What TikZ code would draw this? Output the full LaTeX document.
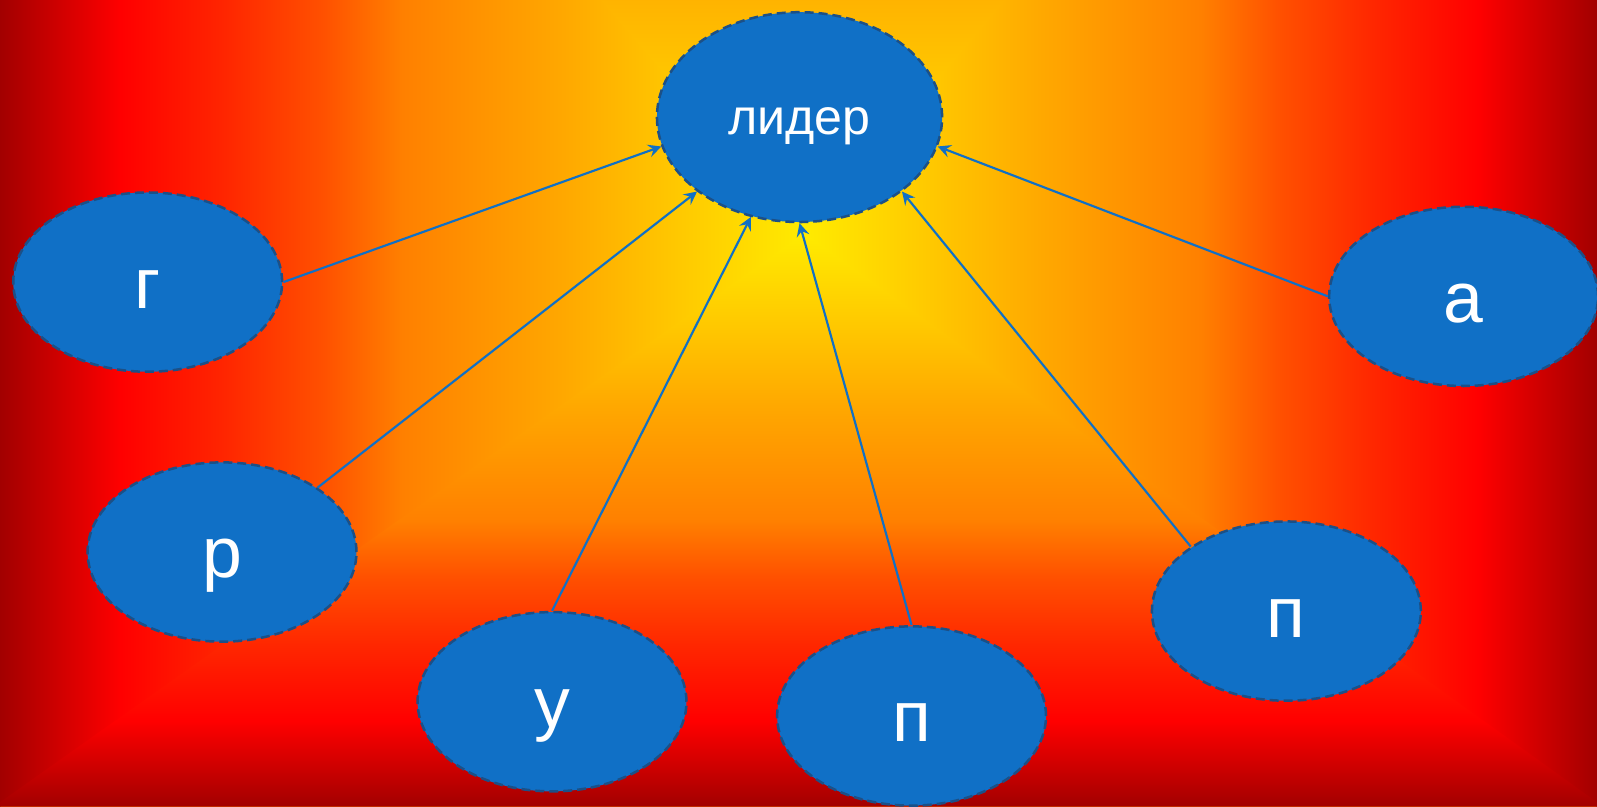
\documentclass[tikz,border=0pt]{standalone}
\usepackage{fontspec}
\setmainfont{Liberation Sans}
\usepackage{xcolor}
\usepackage{tikz}
\usetikzlibrary{arrows, automata, shapes.geometric, positioning}
\definecolor{nodeblue}{RGB}{16,112,198}
\definecolor{rimblue}{RGB}{28,80,135}
\definecolor{glow0}{RGB}{255,235,0}
\definecolor{glow1}{RGB}{255,200,0}
\definecolor{glow2}{RGB}{255,168,0}
\definecolor{glow3}{RGB}{255,128,0}
\definecolor{glow4}{RGB}{255,80,0}
\definecolor{glow5}{RGB}{255,38,0}
\definecolor{glow6}{RGB}{255,0,0}
\definecolor{glow7}{RGB}{162,0,0}
\pgfdeclarehorizontalshading{glow}{100bp}{color(0bp)=(glow0); color(25bp)=(glow0);
  color(33bp)=(glow1); color(40bp)=(glow2); color(50bp)=(glow3); color(55bp)=(glow4);
  color(61bp)=(glow5); color(67.5bp)=(glow6); color(75bp)=(glow7); color(100bp)=(glow7)}

\begin{document}
\begin{tikzpicture}[>= stealth, shorten >= 0pt,
                    auto, node distance=4.5cm, semithick]
\tikzstyle{every state}=[shape=ellipse, draw=rimblue, fill=nodeblue, text=white,
                    line width=0.7pt, dash pattern=on 2.5pt off 1.4pt, inner sep=0pt,
                    minimum width=2.64cm, minimum height=1.76cm,
                    font=\fontsize{20}{24}\selectfont, text height=0.66cm, text depth=0.15cm]
  \useasboundingbox (0,0) rectangle (15.68,-7.92);
  % background glow
  \begin{scope}
    \clip (0,0) rectangle (15.68,-7.92);
    \coordinate (C) at (7.9,-2.3);
    \fill[glow3] (0,0) rectangle (15.68,-7.92);
    \shade[shading=glow, shading angle=180] (C) -- (0,6.9) -- (0,-7.92) -- cycle;
    \shade[shading=glow, shading angle=0]   (C) -- (15.68,6.9) -- (15.68,-7.92) -- cycle;
    \shade[shading=glow, shading angle=90]
      (7.88,-2.3) -- (7.92,-2.3) -- (15.74,6.9) -- (-0.06,6.9) -- cycle;
    \shade[shading=glow, shading angle=270]
      (7.88,-2.3) -- (7.92,-2.3) -- (15.74,-7.92) -- (-0.06,-7.92) -- cycle;
  \end{scope}
  \node[state, minimum width=2.8cm, minimum height=2.06cm, font=\fontsize{14}{17}\selectfont,
        text height=0.45cm, text depth=0.1cm] (L) at (7.85,-1.15) {лидер};
  \node[state] (G)  [left of=L, node distance=6.4cm, yshift=-1.62cm] {г};
  \node[state] (R)  [left of=L, node distance=5.67cm, yshift=-4.27cm] {р};
  \node[state] (U)  [below of=L, node distance=5.74cm, xshift=-2.43cm] {у};
  \node[state] (P)  [below of=L, node distance=5.88cm, xshift=1.1cm] {п};
  \node[state] (P2) [right of=L, node distance=4.78cm, yshift=-4.85cm] {п};
  \node[state] (A)  [right of=L, node distance=6.52cm, yshift=-1.76cm] {а};
  \path[->, nodeblue] (G.east) edge (L.192);
  \path[->, nodeblue] (R.34)   edge (L.216);
  \path[->, nodeblue] (U.north) edge (L.244);
  \path[->, nodeblue] (P.north) edge (L.270);
  \path[->, nodeblue] (P2.146) edge (L.324);
  \path[->, nodeblue] (A.west) edge (L.348);
\end{tikzpicture}
\end{document}
